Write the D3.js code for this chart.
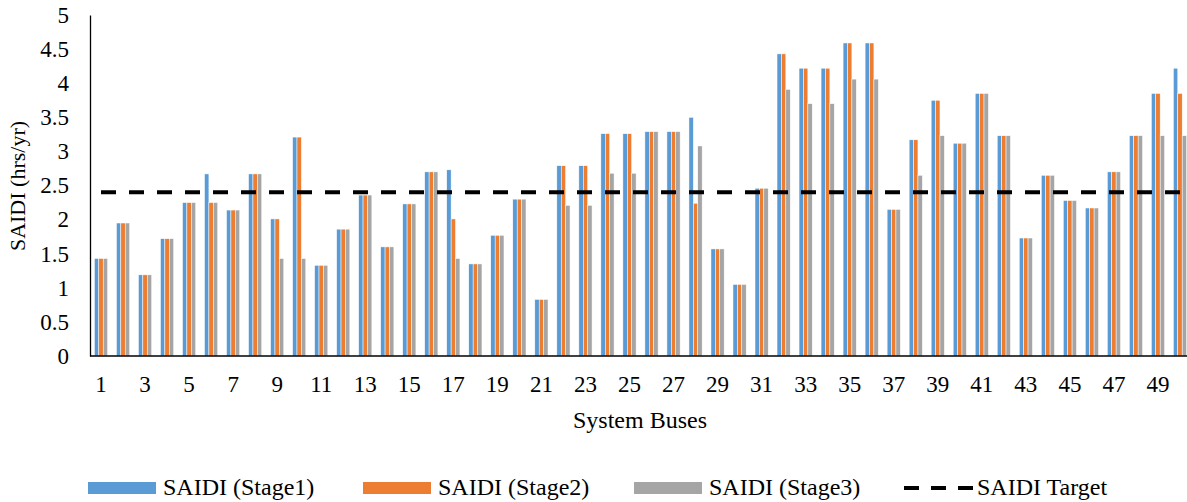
<!DOCTYPE html>
<html lang="en">
<head>
  <meta charset="utf-8">
  <title>SAIDI per bus</title>
  <script src="https://cdn.jsdelivr.net/npm/d3@7/dist/d3.min.js"></script>
  <style>
    body { margin: 0; background: #fff; }
    svg text { font-family: "Liberation Serif", "DejaVu Serif", serif; fill: #000; }
  </style>
</head>
<body>
  <div id="chart-area"></div>

  <script>
    // chart data
    var buses = d3.range(1, 51);
    var stage1 = [1.43, 1.95, 1.19, 1.72, 2.25, 2.67, 2.14, 2.67, 2.01, 3.21,
                  1.33, 1.86, 2.36, 1.60, 2.23, 2.70, 2.73, 1.35, 1.77, 2.30,
                  0.83, 2.79, 2.79, 3.26, 3.26, 3.29, 3.29, 3.50, 1.57, 1.05,
                  2.46, 4.43, 4.22, 4.22, 4.59, 4.59, 2.15, 3.17, 3.75, 3.12,
                  3.85, 3.23, 1.73, 2.65, 2.28, 2.17, 2.70, 3.23, 3.85, 4.22];
    var stage2 = [1.43, 1.95, 1.19, 1.72, 2.25, 2.25, 2.14, 2.67, 2.01, 3.21,
                  1.33, 1.86, 2.36, 1.60, 2.23, 2.70, 2.01, 1.35, 1.77, 2.30,
                  0.83, 2.79, 2.79, 3.26, 3.26, 3.29, 3.29, 2.24, 1.57, 1.05,
                  2.46, 4.43, 4.22, 4.22, 4.59, 4.59, 2.15, 3.17, 3.75, 3.12,
                  3.85, 3.23, 1.73, 2.65, 2.28, 2.17, 2.70, 3.23, 3.85, 3.85];
    var stage3 = [1.43, 1.95, 1.19, 1.72, 2.25, 2.25, 2.14, 2.67, 1.43, 1.43,
                  1.33, 1.86, 2.36, 1.60, 2.23, 2.70, 1.43, 1.35, 1.77, 2.30,
                  0.83, 2.21, 2.21, 2.68, 2.68, 3.29, 3.29, 3.08, 1.57, 1.05,
                  2.46, 3.91, 3.70, 3.70, 4.06, 4.06, 2.15, 2.65, 3.23, 3.12,
                  3.85, 3.23, 1.73, 2.65, 2.28, 2.17, 2.70, 3.23, 3.23, 3.23];
    var target = 2.4;
    var seriesNames = ["SAIDI (Stage1)", "SAIDI (Stage2)", "SAIDI (Stage3)"];
    var targetName = "SAIDI Target";
    var yTicks = [0, 0.5, 1, 1.5, 2, 2.5, 3, 3.5, 4, 4.5, 5];

    var colors = ["#5b9bd5", "#ed7d31", "#a5a5a5"];
    var seriesValues = [stage1, stage2, stage3];
    var serif = "'Liberation Serif', 'DejaVu Serif', serif";

    var svgWidth = 1187;
    var svgHeight = 502;
    var plotLeft = 90, plotRight = 1191, plotTop = 15, plotBottom = 356;

    var svg = d3.select("#chart-area")
                .append("svg")
                .attr("width", svgWidth)
                .attr("height", svgHeight)
                .attr("font-family", serif);

    var x = d3.scaleBand()
              .domain(buses)
              .range([plotLeft, plotRight])
              .paddingInner(0.4)
              .paddingOuter(0.2);

    var x1 = d3.scaleBand()
               .domain(d3.range(3))
               .range([0, x.bandwidth()]);

    var y = d3.scaleLinear()
              .domain([0, 5])
              .range([plotBottom, plotTop]);

    // bars
    var groups = svg.append("g")
                    .selectAll("g")
                    .data(buses)
                    .enter()
                    .append("g")
                    .attr("transform", (d) => "translate(" + x(d) + ",0)");

    groups.selectAll("rect")
          .data((d, i) => seriesValues.map((s, k) => ({ k: k, v: s[i] })))
          .enter()
          .append("rect")
          .attr("x", (d) => x1(d.k))
          .attr("width", x1.bandwidth())
          .attr("y", (d) => y(d.v))
          .attr("height", (d) => plotBottom - y(d.v))
          .attr("fill", (d) => colors[d.k])
          .attr("stroke", "#fff")
          .attr("stroke-width", 0.5);

    // target line
    var half = x.bandwidth() / 2;
    svg.append("line")
       .attr("x1", x(buses[0]) + half)
       .attr("x2", x(buses[buses.length - 1]) + half)
       .attr("y1", y(target))
       .attr("y2", y(target))
       .attr("stroke", "#000")
       .attr("stroke-width", 4)
       .attr("stroke-dasharray", "15,13");

    // axes
    var yAxisCall = d3.axisLeft(y)
                      .tickValues(yTicks)
                      .tickFormat((d) => d)
                      .tickSize(0)
                      .tickPadding(21);
    var yAxis = svg.append("g")
                   .attr("transform", "translate(" + plotLeft + ",0)")
                   .call(yAxisCall)
                   .attr("font-family", serif);
    yAxis.select(".domain").attr("stroke", "#000").attr("stroke-width", 1.3);
    yAxis.selectAll("text").style("font-size", "23px");

    var xAxisCall = d3.axisBottom(x)
                      .tickValues(buses.filter((d) => d % 2 === 1))
                      .tickSize(0)
                      .tickPadding(20);
    var xAxis = svg.append("g")
                   .attr("transform", "translate(0," + plotBottom + ")")
                   .call(xAxisCall)
                   .attr("font-family", serif);
    xAxis.select(".domain").remove();
    xAxis.selectAll("text").style("font-size", "23px");
    svg.append("line")
       .attr("x1", plotLeft).attr("x2", svgWidth)
       .attr("y1", plotBottom).attr("y2", plotBottom)
       .attr("stroke", "#000").attr("stroke-width", 1.3);

    // axis titles
    svg.append("text")
       .attr("transform", "translate(25,186) rotate(-90)")
       .attr("text-anchor", "middle")
       .style("font-size", "22px")
       .text("SAIDI (hrs/yr)");

    svg.append("text")
       .attr("x", 640)
       .attr("y", 428)
       .attr("text-anchor", "middle")
       .style("font-size", "24px")
       .text("System Buses");

    // legend
    var legendX = [88, 363, 634];
    var legend = svg.append("g");
    seriesNames.forEach((name, k) => {
      legend.append("rect")
            .attr("x", legendX[k]).attr("y", 482)
            .attr("width", 68).attr("height", 12)
            .attr("fill", colors[k]);
      legend.append("text")
            .attr("x", legendX[k] + 75).attr("y", 495)
            .style("font-size", "24px")
            .text(name);
    });
    legend.append("line")
          .attr("x1", 904).attr("x2", 974)
          .attr("y1", 488).attr("y2", 488)
          .attr("stroke", "#000")
          .attr("stroke-width", 4)
          .attr("stroke-dasharray", "15,12");
    legend.append("text")
          .attr("x", 977).attr("y", 495)
          .style("font-size", "24px")
          .text(targetName);
  </script>
</body>
</html>
